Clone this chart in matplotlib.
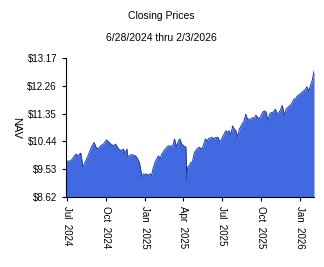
import numpy as np
import pandas as pd
import matplotlib
matplotlib.use('Agg')
import matplotlib.pyplot as plt
import matplotlib.dates as mdates

plt.rcParams['font.family'] = ['Liberation Sans', 'DejaVu Sans']

dates = [
    '2024-06-28', '2024-07-10', '2024-07-18', '2024-07-22', '2024-07-26', '2024-07-30',
    '2024-08-01', '2024-08-02', '2024-08-07', '2024-08-12', '2024-08-19', '2024-08-27',
    '2024-09-02', '2024-09-07', '2024-09-11', '2024-09-18', '2024-09-24', '2024-10-02',
    '2024-10-06', '2024-10-12', '2024-10-18', '2024-10-23', '2024-10-30', '2024-11-05',
    '2024-11-11', '2024-11-13', '2024-11-19', '2024-11-21', '2024-11-27', '2024-12-02',
    '2024-12-08', '2024-12-12', '2024-12-18', '2024-12-23', '2024-12-24', '2024-12-28',
    '2024-12-31', '2025-01-04', '2025-01-08', '2025-01-12', '2025-01-16', '2025-01-18',
    '2025-01-24', '2025-02-01', '2025-02-05', '2025-02-09', '2025-02-17', '2025-02-23',
    '2025-02-28', '2025-03-04', '2025-03-08', '2025-03-11', '2025-03-14', '2025-03-16',
    '2025-03-20', '2025-03-24', '2025-03-28', '2025-04-03', '2025-04-07', '2025-04-09',
    '2025-04-11', '2025-04-15', '2025-04-19', '2025-04-22', '2025-04-27', '2025-05-03',
    '2025-05-08', '2025-05-15', '2025-05-19', '2025-05-23', '2025-05-27', '2025-05-31',
    '2025-06-08', '2025-06-12', '2025-06-16', '2025-06-22', '2025-06-25', '2025-06-30',
    '2025-07-06', '2025-07-10', '2025-07-14', '2025-07-18', '2025-07-22', '2025-07-26',
    '2025-07-30', '2025-08-03', '2025-08-07', '2025-08-11', '2025-08-17', '2025-08-22',
    '2025-08-26', '2025-08-30', '2025-09-03', '2025-09-07', '2025-09-11', '2025-09-15',
    '2025-09-19', '2025-09-23', '2025-09-27', '2025-10-01', '2025-10-05', '2025-10-09',
    '2025-10-13', '2025-10-17', '2025-10-21', '2025-10-25', '2025-10-30', '2025-11-04',
    '2025-11-08', '2025-11-12', '2025-11-15', '2025-11-20', '2025-11-23', '2025-11-26',
    '2025-11-29', '2025-12-03', '2025-12-07', '2025-12-14', '2025-12-17', '2025-12-22',
    '2025-12-25', '2025-12-31', '2026-01-06', '2026-01-09', '2026-01-14', '2026-01-17',
    '2026-01-22', '2026-01-25', '2026-01-28', '2026-01-30', '2026-02-02', '2026-02-03',
]
nav = [
    9.78, 9.81, 9.97, 10.03, 9.95, 10.03,
    10.00, 10.05, 9.60, 9.76, 9.97, 10.25,
    10.41, 10.25, 10.19, 10.30, 10.35, 10.49,
    10.43, 10.35, 10.30, 10.35, 10.19, 10.14,
    10.19, 10.03, 10.19, 9.92, 10.00, 10.00,
    9.97, 9.92, 9.76, 9.38, 9.27, 9.38,
    9.35, 9.38, 9.32, 9.38, 9.32, 9.49,
    9.76, 9.97, 9.87, 10.03, 10.19, 10.28,
    10.30, 10.25, 10.35, 10.52, 10.35, 10.25,
    10.46, 10.52, 10.35, 10.28, 10.25, 9.16,
    9.60, 9.65, 9.76, 9.76, 10.08, 10.19,
    10.25, 10.19, 10.35, 10.52, 10.46, 10.54,
    10.57, 10.52, 10.57, 10.57, 10.41, 10.52,
    10.68, 10.79, 10.73, 10.79, 10.65, 10.95,
    10.84, 10.79, 10.57, 10.84, 11.00, 11.11,
    11.33, 11.17, 11.17, 11.17, 11.22, 11.19,
    11.30, 11.22, 11.19, 11.27, 11.40, 11.44,
    11.40, 11.11, 11.33, 11.38, 11.40, 11.49,
    11.33, 11.40, 11.44, 11.62, 11.44, 11.27,
    11.49, 11.55, 11.60, 11.71, 11.82, 11.84,
    11.92, 11.98, 12.05, 12.09, 12.14, 12.23,
    12.09, 12.25, 12.36, 12.45, 12.68, 12.74,
]
y_ticks = [8.62, 9.53, 10.44, 11.35, 12.26, 13.17]
x_ticks = ['2024-07-01', '2024-10-01', '2025-01-01', '2025-04-01',
           '2025-07-01', '2025-10-01', '2026-01-01']

x = pd.to_datetime(dates)

fig = plt.figure(figsize=(3.24, 2.67), dpi=100)
ax = fig.add_axes([66 / 324, 70 / 267, 248 / 324, 139 / 267])

ax.fill_between(x, y_ticks[0], nav, color='#4169e1', linewidth=0)
ax.plot(x, nav, color='#1f3f9f', linewidth=0.7)

ax.set_xlim(x[0], x[-1])
ax.set_ylim(y_ticks[0], y_ticks[-1])
ax.set_yticks(y_ticks)
ax.set_yticklabels(['$%.2f' % v for v in y_ticks])
ax.set_xticks(pd.to_datetime(x_ticks))
ax.xaxis.set_major_formatter(mdates.DateFormatter('%b  %Y'))
for lbl in ax.get_xticklabels():
    lbl.set_rotation(270)
    lbl.set_va('top')
    lbl.set_ha('center')

ax.tick_params(labelsize=7, length=3, width=0.8, colors='black')
ax.spines['top'].set_visible(False)
ax.spines['right'].set_visible(False)
ax.set_ylabel('NAV', rotation=270, fontsize=8, labelpad=12, va='bottom')

fig.text(161 / 324, 1 - 16 / 267, 'Closing Prices', ha='center', va='center', fontsize=7.5)
fig.text(161 / 324, 1 - 38 / 267, '6/28/2024 thru 2/3/2026', ha='center', va='center', fontsize=7.5)

fig.savefig('out.png', dpi=100)
